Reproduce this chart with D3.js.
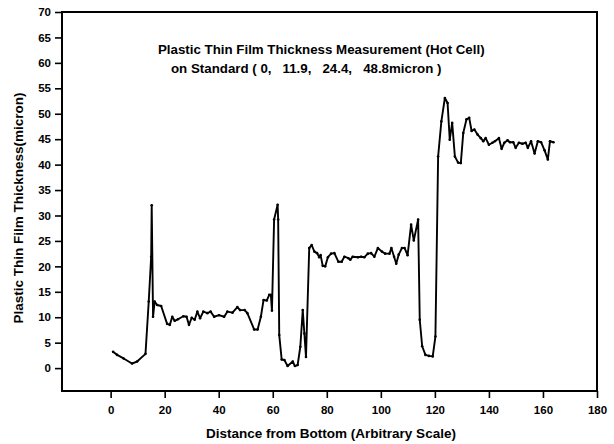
<!DOCTYPE html>
<html>
<head>
	<title>thin film</title>
	<script src="https://cdnjs.cloudflare.com/ajax/libs/d3/7.8.5/d3.min.js"></script>
	<style>
		body { margin:0; background:#fff; }
		text { font-family: "Liberation Sans", Arial, sans-serif; fill:#000; }
	</style>
</head>
<body>
	<svg width="614" height="444"></svg>
	<script type="text/javascript">

		var distance = [0.9,2.4,4.8,7.9,9.8,12.9,14.1,15.0,15.2,15.7,16.3,17.2,18.7,20.9,21.9,22.8,23.7,24.9,26.9,28.1,29.0,30.0,31.1,32.1,33.1,34.3,35.8,37.0,38.3,40.1,42.0,43.2,45.1,46.9,47.9,49.6,50.6,53.1,54.4,55.6,56.6,57.8,58.7,59.3,59.7,60.5,61.8,62.0,62.4,63.3,64.3,65.5,67.4,68.2,69.2,70.2,71.1,71.7,72.3,73.5,74.4,75.4,76.4,77.2,77.7,78.5,79.4,80.4,81.6,82.8,84.3,85.5,86.5,88.0,88.7,89.6,91.5,92.7,93.9,95.2,96.4,97.6,98.9,100.4,101.6,103.2,103.9,104.9,105.7,106.6,107.8,108.8,109.9,111.2,112.2,113.8,114.4,115.3,116.5,117.8,119.2,120.2,121.2,122.4,123.7,124.7,125.5,126.4,127.4,128.6,129.6,130.5,131.7,132.7,133.6,134.6,135.8,137.0,137.9,138.8,140.0,141.3,142.2,143.7,144.7,145.7,146.9,147.8,149.0,149.9,151.1,152.4,153.6,154.4,155.6,156.9,158.1,159.3,160.6,161.8,162.6,163.9];
		var thickness = [3.2,2.6,1.9,0.9,1.3,2.8,13.1,21.9,32.0,10.1,13.1,12.4,12.2,8.7,8.5,10.1,9.3,9.6,10.2,10.1,8.5,9.9,9.5,11.1,9.8,11.1,10.8,11.1,10.1,10.4,10.1,11.1,10.9,12.0,11.4,11.4,10.8,7.6,7.6,10.1,13.4,13.3,14.4,14.4,11.3,29.2,32.1,29.2,6.5,1.7,1.6,0.4,1.3,0.4,0.6,4.2,11.4,6.8,2.2,23.6,24.2,22.9,22.6,21.8,22.2,20.1,20.0,21.8,22.5,22.6,20.9,20.9,21.9,21.6,21.3,21.9,21.8,21.9,21.8,22.5,22.6,21.9,23.6,22.9,22.5,22.5,23.6,21.9,20.5,22.3,23.6,23.6,22.2,28.2,25.1,29.2,9.5,4.3,2.6,2.4,2.3,6.2,41.6,48.5,53.1,52.1,44.9,48.2,41.6,40.4,40.3,46.2,48.9,49.2,46.6,46.9,45.9,45.2,44.6,45.2,43.9,44.3,44.6,45.2,43.1,44.3,44.8,44.4,44.4,43.3,44.3,44.1,44.3,43.3,44.6,42.2,44.6,44.4,42.8,41.0,44.6,44.4];

		var xTicks = [0,20,40,60,80,100,120,140,160,180];
		var yTicks = [0,5,10,15,20,25,30,35,40,45,50,55,60,65,70];
		var titleLines = ["Plastic Thin Film Thickness Measurement (Hot Cell)", "on Standard ( 0,   11.9,   24.4,   48.8micron )"];

		var data = distance.map(function(d,i) {return {x:d, y:thickness[i]}});

		var padL = 62, padR = 597, padT = 12, padB = 391;
		var svg = d3.select("svg");

		var xScale = d3.scaleLinear().domain([-18,180]).range([padL,padR]);
		var yScale = d3.scaleLinear().domain([-4.5,70]).range([padB,padT]);

		// frame
		svg.append("rect")
			.attr("x", padL).attr("y", padT)
			.attr("width", padR-padL).attr("height", padB-padT)
			.style("fill", "none").style("stroke", "#000").style("stroke-width", "2px");

		var xAxis = svg.append("g")
			.attr("transform", "translate(0," + padB + ")")
			.call(d3.axisBottom(xScale).tickValues(xTicks).tickSize(7).tickPadding(8));
		var yAxis = svg.append("g")
			.attr("transform", "translate(" + padL + ",0)")
			.call(d3.axisLeft(yScale).tickValues(yTicks).tickSize(7).tickPadding(4));

		[xAxis, yAxis].forEach(function(g) {
			g.select(".domain").remove();
			g.selectAll(".tick line").style("stroke", "#000").style("stroke-width", "1.6px");
			g.selectAll(".tick text")
				.style("font-family", "'Liberation Sans', Arial, sans-serif")
				.style("font-size", "11.5px").style("font-weight", "bold");
		});

		var line = d3.line()
			.x(function(d) {return xScale(d.x)})
			.y(function(d) {return yScale(d.y)});

		svg.append("path")
			.datum(data)
			.attr("d", line)
			.style("fill", "none").style("stroke", "#000")
			.style("stroke-width", "1.9px").style("stroke-linejoin", "round");

		svg.selectAll("circle.pt")
			.data(data)
			.enter()
			.append("circle")
			.attr("class", "pt")
			.attr("cx", function(d) {return xScale(d.x)})
			.attr("cy", function(d) {return yScale(d.y)})
			.attr("r", 1.3)
			.style("fill", "#000");

		svg.append("text")
			.attr("x", 158).attr("y", 54)
			.style("font-size", "13.3px").style("font-weight", "bold")
			.style("white-space", "pre")
			.text(titleLines[0]);
		svg.append("text")
			.attr("x", 171).attr("y", 73)
			.style("font-size", "13.3px").style("font-weight", "bold")
			.style("white-space", "pre")
			.text(titleLines[1]);

		svg.append("text")
			.attr("x", 331).attr("y", 438)
			.attr("text-anchor", "middle")
			.style("font-size", "13.5px").style("font-weight", "bold")
			.text("Distance from Bottom (Arbitrary Scale)");

		svg.append("text")
			.attr("transform", "translate(23,208) rotate(-90)")
			.attr("text-anchor", "middle")
			.style("font-size", "13.5px").style("font-weight", "bold")
			.text("Plastic Thin Film Thickness(micron)");
	</script>
</body>
</html>
